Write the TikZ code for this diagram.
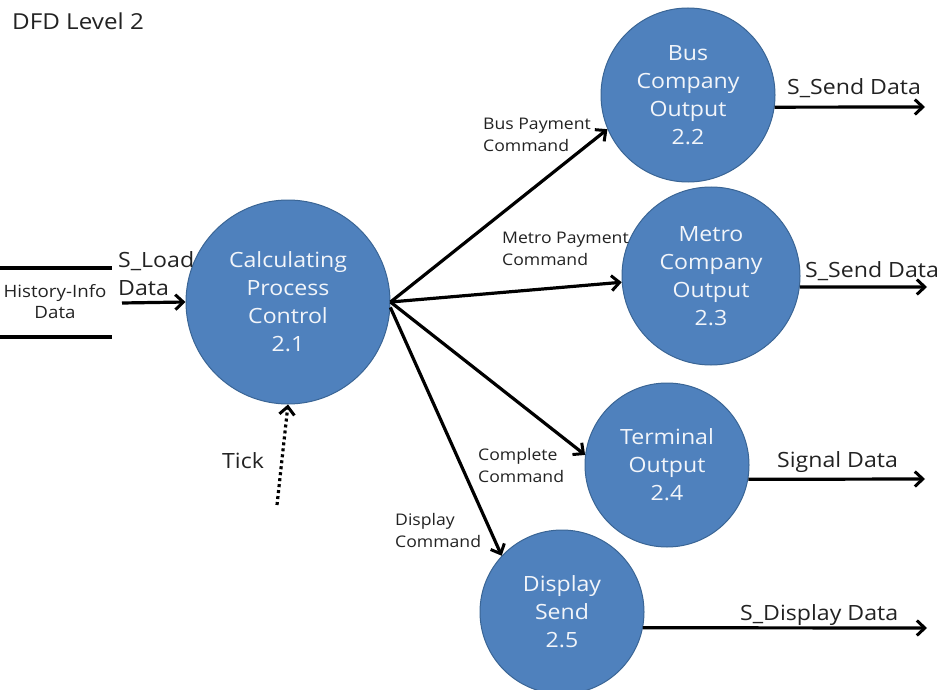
\documentclass[tikz,border=0pt]{standalone}
\usepackage{fontspec}
\setmainfont[FakeStretch=1.1]{Open Sans}
\usetikzlibrary{arrows.meta}
\definecolor{procfill}{HTML}{4F81BD}
\definecolor{procedge}{HTML}{3A6595}
\definecolor{proctext}{HTML}{F2F5FA}
\definecolor{labtext}{HTML}{222222}
\tikzset{
  proc/.style={circle, fill=procfill, draw=procedge, line width=1pt, inner sep=0pt,
    text=proctext, align=center, font=\fontsize{21}{28}\selectfont},
  flow/.style={line width=3.2pt, -{Straight Barb[length=8pt,width=15pt,line width=3pt]}},
  tickflow/.style={line width=3.2pt, dash pattern=on 3pt off 3pt, -{Straight Barb[length=8pt,width=15pt,line width=3pt]}},
  biglab/.style={anchor=base west, inner sep=0pt, text=labtext, font=\fontsize{21}{28}\selectfont},
  smalllab/.style={anchor=base west, inner sep=0pt, text=labtext, align=left, font=\fontsize{16}{22}\selectfont},
}
\begin{document}
\begin{tikzpicture}[x=1pt,y=-1pt]
\useasboundingbox (0,0) rectangle (940,690);
% title
\node[biglab, font=\fontsize{22}{26}\selectfont] (title) at (12,30) {DFD Level 2};
% processes
\node[proc, minimum size=204pt] (c21) at (288,302) {Calculating\\Process\\Control\\2.1};
\node[proc, minimum size=174pt] (c22) at (688,95) {Bus\\Company\\Output\\2.2};
\node[proc, minimum size=178pt] (c23) at (711,276) {Metro\\Company\\Output\\2.3};
\node[proc, minimum size=164pt] (c24) at (667,465) {Terminal\\Output\\2.4};
\node[proc, minimum size=164pt] (c25) at (562,612) {Display\\Send\\2.5};
% data store
\node[inner sep=0pt, align=center, text=labtext, font=\fontsize{17}{21}\selectfont] (store) at (55,302) {History-Info\\Data};
\coordinate (stl) at (0,268);
\coordinate (str) at (112,268);
\coordinate (sbl) at (0,337);
\coordinate (sbr) at (112,337);
\draw[line width=3.2pt] (stl) -- (str);
\draw[line width=3.2pt] (sbl) -- (sbr);
\coordinate (sload) at (122,303);
\draw[flow] (sload) -- (c21.west);
\node[biglab, align=left] (sloadlab) at (118,295) {S\_Load\\Data};
% tick
\coordinate (tick) at (277,505);
\draw[tickflow] (tick) -- (c21.south);
\node[biglab] (ticklab) at (222,468) {Tick};
% internal flows
\draw[flow] (c21.east) -- (c22.203);
\draw[flow] (c21.east) -- (c23.184);
\draw[flow] (c21.east) -- (c24.173);
\draw[flow] (c21.-3) -- (c25.137);
\node[smalllab] (l22) at (483,152) {Bus Payment\\Command};
\node[smalllab] (l23) at (502,265) {Metro Payment\\Command};
\node[smalllab] (l24) at (478,482) {Complete\\Command};
\node[smalllab] (l25) at (395,547) {Display\\Command};
% outputs
\coordinate (o22) at (925,107);
\coordinate (o23) at (927,287);
\coordinate (o24) at (925,479);
\coordinate (o25) at (927,628);
\draw[flow] (c22.-8) -- (o22);
\draw[flow] (c23.-7) -- (o23);
\draw[flow] (c24.-10) -- (o24);
\draw[flow] (c25.-11) -- (o25);
\node[biglab] (ol22) at (787,95) {S\_Send Data};
\node[biglab] (ol23) at (805,277) {S\_Send Data};
\node[biglab] (ol24) at (777,467) {Signal Data};
\node[biglab] (ol25) at (740,620) {S\_Display Data};
\end{tikzpicture}
\end{document}
